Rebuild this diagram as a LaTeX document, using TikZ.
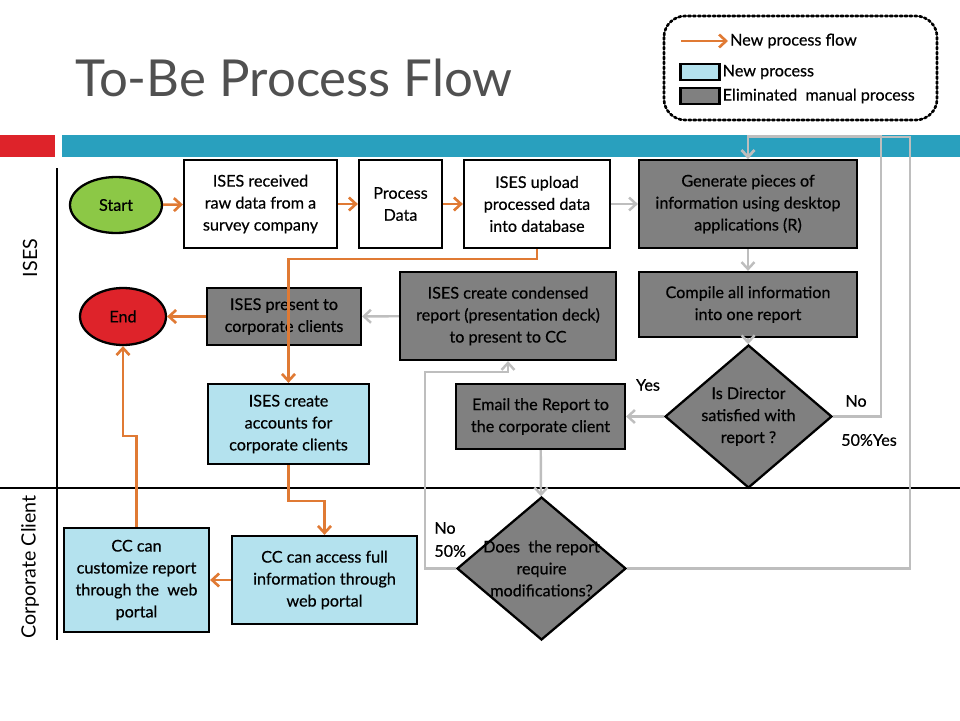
\documentclass[tikz,border=0pt]{standalone}
\usepackage{fontspec}
\setmainfont{Lato}
\newfontfamily\boxfont{Lato}[FakeBold=0.5]
\usetikzlibrary{arrows.meta,shapes.geometric}
\definecolor{flowor}{RGB}{224,122,52}
\definecolor{backgr}{RGB}{190,190,190}
\definecolor{boxgr}{RGB}{128,128,128}
\definecolor{newbl}{RGB}{180,226,238}
\definecolor{barbl}{RGB}{41,160,190}
\definecolor{barrd}{RGB}{222,35,42}
\definecolor{startgr}{RGB}{140,200,70}
\definecolor{titlegr}{RGB}{80,80,80}

\begin{document}
\begin{tikzpicture}[x=0.02cm,y=-0.02cm,
    proc/.style={draw=black,line width=1.3pt,align=center,inner sep=1pt,
      font=\boxfont\fontsize{9.2}{12.5}\selectfont},
    newp/.style={proc,fill=newbl},
    oldp/.style={proc,fill=boxgr},
    term/.style={proc,ellipse},
    ask/.style={proc,diamond,fill=boxgr,inner sep=0pt},
    flow/.style={draw=flowor,line width=1.5pt,-{Straight Barb[length=1.4mm,width=2.6mm]}},
    back/.style={draw=backgr,line width=1.4pt,-{Straight Barb[length=1.4mm,width=2.6mm]}},
    tag/.style={font=\boxfont\fontsize{9.2}{12.5}\selectfont,align=center}]
  \useasboundingbox (0,0) rectangle (960,720);
  % bars and lanes
  \fill[barrd] (0,135) rectangle (55,157);
  \fill[barbl] (62,135) rectangle (960,157);
  \draw[line width=0.6pt] (57,168) -- (57,640);
  \draw[line width=0.6pt] (0,488) -- (960,488);
  \node[rotate=90,font=\fontsize{11.2}{13}\selectfont] (laneA) at (30,258) {ISES};
  \node[rotate=90,font=\fontsize{11.2}{13}\selectfont] (laneB) at (30,567) {Corporate Client};
  \node[anchor=west,text=titlegr,font=\fontsize{29}{31}\selectfont] (title) at (69,78) {To-Be Process Flow};
  % legend
  \draw[line width=1.5pt,dash pattern=on 1.4pt off 1.4pt,line cap=round,rounded corners=12] (664,16) rectangle (937,120);
  \coordinate (la) at (681,41);
  \coordinate (lb) at (728,41);
  \draw[flow] (la) -- (lb);
  \node[tag,anchor=west,inner sep=1pt] (lflow) at (lb) {New process flow};
  \node[newp,minimum width=0.78cm,minimum height=0.32cm] (lnew) at (700,72) {};
  \node[tag,anchor=west,inner sep=1pt] (lnewt) at (lnew.east) {New process};
  \node[oldp,minimum width=0.78cm,minimum height=0.32cm] (lold) at (700,96) {};
  \node[tag,anchor=west,inner sep=1pt] (loldt) at (lold.east) {Eliminated\ \ manual process};
  % nodes
  \node[term,fill=startgr,minimum width=1.84cm,minimum height=1.12cm] (start) at (116,205) {Start};
  \node[proc,fill=white,minimum width=3.06cm,minimum height=1.76cm] (recv) at (260.5,204) {ISES received\\raw data from a\\survey company};
  \node[proc,fill=white,minimum width=1.66cm,minimum height=1.76cm] (prdata) at (400.5,204) {Process\\Data};
  \node[proc,fill=white,minimum width=2.92cm,minimum height=1.76cm] (upload) at (537,204) {ISES upload\\processed data\\into database};
  \node[oldp,minimum width=4.36cm,minimum height=1.76cm] (gen) at (748,204) {Generate pieces of\\information using desktop\\applications (R)};
  \node[oldp,minimum width=4.36cm,minimum height=1.30cm] (comp) at (748,304.5) {Compile all information\\into one report};
  \node[ask,minimum width=3.34cm,minimum height=2.86cm,
    label={[tag]center:Is Director\\satisfied with\\report ?}] (dir) at (748.5,416.5) {};
  \node[oldp,minimum width=3.38cm,minimum height=1.30cm] (email) at (540.5,416.5) {Email the Report to\\the corporate client};
  \node[ask,minimum width=3.38cm,minimum height=2.86cm,
    label={[tag]center:Does\ \ the report\\require\\modifications?}] (modif) at (541.5,568.5) {};
  \node[oldp,minimum width=4.32cm,minimum height=1.76cm] (cond) at (508,316) {ISES create condensed\\report (presentation deck)\\to present to CC};
  \node[oldp,minimum width=3.08cm,minimum height=1.14cm] (pres) at (284,316.5) {ISES present to\\corporate clients};
  \node[term,fill=barrd,minimum width=1.72cm,minimum height=1.14cm] (end) at (123,316.5) {End};
  \node[newp,minimum width=3.22cm,minimum height=1.60cm] (acct) at (288.5,424) {ISES create\\accounts for\\corporate clients};
  \node[newp,minimum width=2.90cm,minimum height=2.08cm] (cust) at (136.5,580) {CC can\\customize report\\through the\ \ web\\portal};
  \node[newp,minimum width=3.70cm,minimum height=1.76cm] (access) at (324.5,580) {CC can access full\\information through\\web portal};
  % connectors
  \draw[flow] (start) -- (recv);
  \draw[flow] (recv) -- (prdata);
  \draw[flow] (prdata) -- (upload);
  \draw[back] (upload) -- (gen);
  \draw[back] (gen) -- (comp);
  \draw[back] (comp) -- (dir);
  \draw[back] (dir) -- (email);
  \draw[back] (email) -- (modif);
  \draw[back] (cond) -- (pres);
  \draw[flow] (pres) -- (end);
  \draw[flow] (upload.south) -- ++(0,10) -| (acct.north);
  \draw[flow] (acct.south) -- ++(0,36) -| (access.north);
  \draw[flow] (access) -- (cust);
  \draw[flow] (cust.north) -- ++(0,-91) -| (end.south);
  \draw[back] (dir.east) -| ++(48,-280) -| (gen.north);
  \draw[back] (modif.east) -| ++(283,-431.5) -| (gen.north);
  \draw[back] (modif.west) -| ++(-31,-196.5) -| (cond.south);
  % answers
  \node[tag] (yesA) at (648,385) {Yes};
  \node[tag] (noA) at (856,401) {No};
  \node[tag] (yesB) at (869,440) {50\%Yes};
  \node[tag,anchor=west,inner sep=0pt] (noB) at (434,528) {No};
  \node[tag,anchor=west,inner sep=0pt] (pctB) at (434,551) {50\%};
\end{tikzpicture}
\end{document}
